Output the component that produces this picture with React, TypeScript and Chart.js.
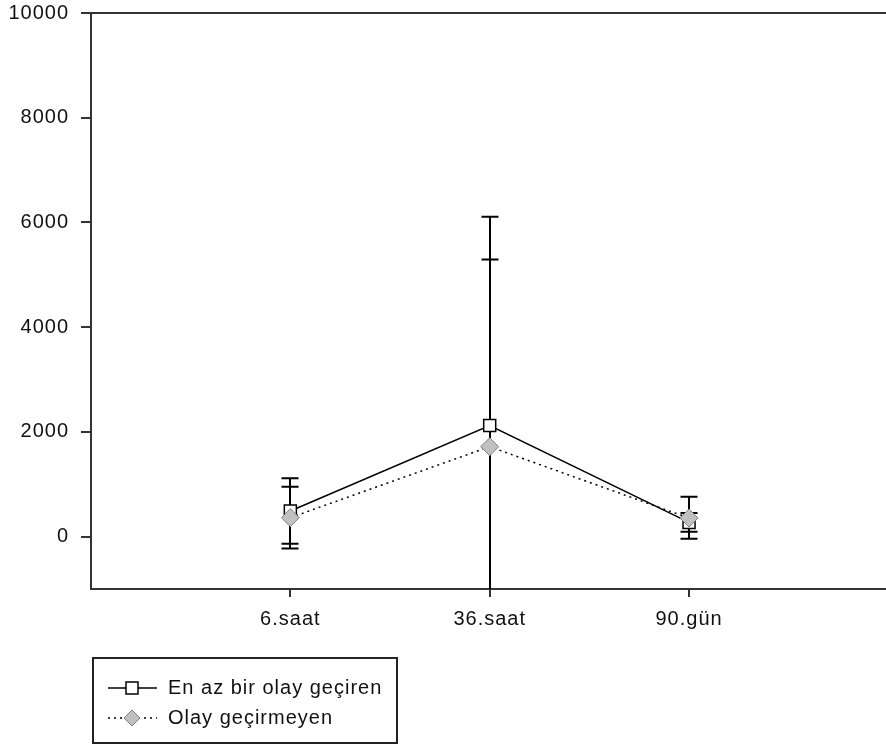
import React, { useEffect, useRef } from 'react';
import { Chart, registerables } from 'chart.js';

Chart.register(...registerables);

// ---- data ----
const categories = ['6.saat', '36.saat', '90.gün'];
const categoryX = [1, 2, 3];
const seriesNames = ['En az bir olay geçiren', 'Olay geçirmeyen'];
const eventMeans = [490, 2122, 271];
const eventUpper = [1114, 6107, 450];
const eventLower = [-134, -1863, 92];
const noEventMeans = [363, 1718, 355];
const noEventUpper = [954, 5294, 760];
const noEventLower = [-228, -1858, -40];
const yTicks = [0, 2000, 4000, 6000, 8000, 10000];
const yMin = -1000;
const yMax = 10000;
const xMin = 0;
const xMax = 3.988;

const FONT = '"Liberation Sans", Arial, sans-serif';
const AXIS = '#333333';
const TEXT = '#111111';

const errorBars = [
  { upper: eventUpper, lower: eventLower },
  { upper: noEventUpper, lower: noEventLower },
];

const letterSpacingPlugin = {
  id: 'letterSpacing',
  beforeDraw(chart: any) {
    (chart.ctx as any).letterSpacing = '1px';
  },
};

const errorBarPlugin = {
  id: 'errorBars',
  beforeDatasetsDraw(chart: any) {
    const { ctx, chartArea } = chart;
    const xs = chart.scales.x;
    const ys = chart.scales.y;
    ctx.save();
    ctx.beginPath();
    ctx.rect(chartArea.left, chartArea.top, chartArea.right - chartArea.left, chartArea.bottom - chartArea.top);
    ctx.clip();
    ctx.strokeStyle = '#000';
    ctx.lineWidth = 2;
    const cap = 8.5;
    errorBars.forEach((eb) => {
      categoryX.forEach((cx, i) => {
        const px = Math.round(xs.getPixelForValue(cx));
        const yu = ys.getPixelForValue(eb.upper[i]);
        const yl = ys.getPixelForValue(eb.lower[i]);
        ctx.beginPath();
        ctx.moveTo(px, yu);
        ctx.lineTo(px, yl);
        ctx.moveTo(px - cap, yu);
        ctx.lineTo(px + cap, yu);
        ctx.moveTo(px - cap, yl);
        ctx.lineTo(px + cap, yl);
        ctx.stroke();
      });
    });
    ctx.restore();
  },
};

const frameLegendPlugin = {
  id: 'frameLegend',
  afterDraw(chart: any) {
    const { ctx, chartArea } = chart;
    ctx.save();
    // top frame line
    ctx.strokeStyle = AXIS;
    ctx.lineWidth = 2;
    ctx.beginPath();
    ctx.moveTo(chartArea.left, chartArea.top);
    ctx.lineTo(chartArea.right, chartArea.top);
    ctx.stroke();

    // legend box
    const bx = 93, by = 658, bw = 304, bh = 85;
    ctx.strokeStyle = '#222';
    ctx.lineWidth = 2;
    ctx.strokeRect(bx, by, bw, bh);

    const rows = [688, 718];
    const x0 = 108, x1 = 157, mx = 132;
    // row 1: solid line + square
    ctx.strokeStyle = '#000';
    ctx.lineWidth = 1.5;
    ctx.setLineDash([]);
    ctx.beginPath();
    ctx.moveTo(x0, rows[0]);
    ctx.lineTo(x1, rows[0]);
    ctx.stroke();
    ctx.fillStyle = '#fff';
    ctx.fillRect(mx - 6, rows[0] - 6, 12, 12);
    ctx.strokeRect(mx - 6, rows[0] - 6, 12, 12);
    // row 2: dotted line + diamond
    ctx.setLineDash([2, 4]);
    ctx.beginPath();
    ctx.moveTo(x0, rows[1]);
    ctx.lineTo(x1, rows[1]);
    ctx.stroke();
    ctx.setLineDash([]);
    ctx.beginPath();
    ctx.moveTo(mx, rows[1] - 8);
    ctx.lineTo(mx + 8, rows[1]);
    ctx.lineTo(mx, rows[1] + 8);
    ctx.lineTo(mx - 8, rows[1]);
    ctx.closePath();
    ctx.fillStyle = '#c0c0c0';
    ctx.fill();
    ctx.strokeStyle = '#808080';
    ctx.lineWidth = 1;
    ctx.stroke();

    ctx.fillStyle = TEXT;
    ctx.font = `20px ${FONT}`;
    (ctx as any).letterSpacing = '1px';
    ctx.textBaseline = 'middle';
    ctx.textAlign = 'left';
    ctx.fillText(seriesNames[0], 168, rows[0]);
    ctx.fillText(seriesNames[1], 168, rows[1]);
    ctx.restore();
  },
};

export default function App() {
  const ref = useRef<HTMLCanvasElement | null>(null);

  useEffect(() => {
    if (!ref.current) return;
    const chart = new Chart(ref.current, {
      type: 'line',
      data: {
        datasets: [
          {
            label: seriesNames[0],
            data: categoryX.map((x, i) => ({ x, y: eventMeans[i] })),
            borderColor: '#000',
            borderWidth: 1.5,
            pointStyle: 'rect',
            pointRadius: 8.5,
            pointBackgroundColor: '#fff',
            pointBorderColor: '#000',
            pointBorderWidth: 1.5,
            order: 2,
            tension: 0,
          },
          {
            label: seriesNames[1],
            data: categoryX.map((x, i) => ({ x, y: noEventMeans[i] })),
            borderColor: '#000',
            borderWidth: 1.5,
            borderDash: [2, 4],
            pointStyle: 'rectRot',
            pointRadius: 9,
            pointBackgroundColor: '#c0c0c0',
            pointBorderColor: '#808080',
            pointBorderWidth: 1,
            order: 1,
            tension: 0,
          },
        ],
      },
      options: {
        animation: false,
        responsive: false,
        devicePixelRatio: 1,
        events: [],
        layout: { autoPadding: false, padding: { top: 13, left: 0, right: 0, bottom: 0 } },
        plugins: {
          legend: { display: false },
          tooltip: { enabled: false },
          title: { display: false },
        },
        scales: {
          x: {
            type: 'linear',
            min: xMin,
            max: xMax,
            afterBuildTicks: (scale: any) => {
              scale.ticks = categoryX.map((v) => ({ value: v }));
            },
            afterFit: (scale: any) => {
              scale.height = 158;
              scale.paddingLeft = 0;
              scale.paddingRight = 0;
              scale.paddingTop = 0;
              scale.paddingBottom = 0;
            },
            ticks: {
              autoSkip: false,
              maxRotation: 0,
              padding: 10,
              color: TEXT,
              font: { family: FONT, size: 20 },
              callback: (v: any) => {
                const idx = categoryX.indexOf(Number(v));
                return idx >= 0 ? categories[idx] : '';
              },
            },
            grid: {
              drawOnChartArea: false,
              drawTicks: true,
              tickLength: 8,
              color: AXIS,
              lineWidth: 2,
            },
            border: { display: true, color: AXIS, width: 2 },
          },
          y: {
            type: 'linear',
            min: yMin,
            max: yMax,
            afterBuildTicks: (scale: any) => {
              scale.ticks = yTicks.map((v) => ({ value: v }));
            },
            afterFit: (scale: any) => {
              scale.width = 91;
              scale.paddingLeft = 0;
              scale.paddingRight = 0;
              scale.paddingTop = 0;
              scale.paddingBottom = 0;
            },
            ticks: {
              padding: 12,
              color: TEXT,
              font: { family: FONT, size: 20 },
              callback: (v: any) => String(v),
            },
            grid: {
              drawOnChartArea: false,
              drawTicks: true,
              tickLength: 10,
              color: AXIS,
              lineWidth: 2,
            },
            border: { display: true, color: AXIS, width: 2 },
          },
        },
      },
      plugins: [letterSpacingPlugin, errorBarPlugin, frameLegendPlugin],
    } as any);
    return () => chart.destroy();
  }, []);

  return (
    <div style={{ position: 'absolute', left: 0, top: 0, width: 886, height: 747, background: '#fff' }}>
      <canvas ref={ref} width={886} height={747} style={{ display: 'block' }} />
    </div>
  );
}
